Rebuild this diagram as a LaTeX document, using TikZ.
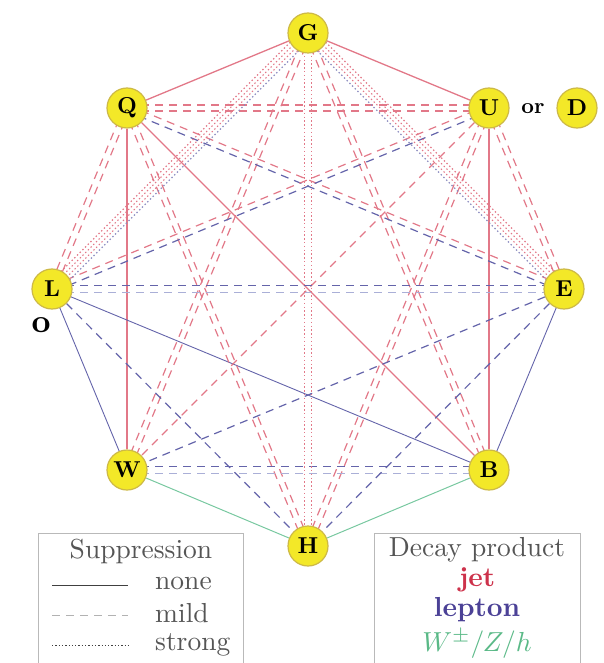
\documentclass[tikz,border=0pt]{standalone}
\usetikzlibrary{calc,backgrounds}
\definecolor{jetc}{RGB}{226,120,136}
\definecolor{lepc}{RGB}{100,100,170}
\definecolor{lepl}{RGB}{170,175,215}
\definecolor{bosc}{RGB}{120,200,160}
\definecolor{nodefill}{RGB}{243,232,40}
\definecolor{nodeedge}{RGB}{205,185,70}
\definecolor{boxc}{RGB}{185,185,185}
\definecolor{legtext}{RGB}{85,85,85}
\definecolor{jettext}{RGB}{205,50,75}
\definecolor{leptext}{RGB}{75,65,150}
\definecolor{bostext}{RGB}{90,185,135}
\newcommand\pedgeL[4]{\draw[#4] ($(#2.center)!#1!90:(#3.center)$) -- ($(#3.center)!#1!-90:(#2.center)$);}
\newcommand\pedgeR[4]{\draw[#4] ($(#2.center)!#1!-90:(#3.center)$) -- ($(#3.center)!#1!90:(#2.center)$);}
\newcommand\nlab[1]{\scalebox{2.3}{\textbf{#1}}}
\newcommand\legtxt[1]{\scalebox{2.75}{#1}}
\tikzset{
  particle/.style={circle, fill=nodefill, draw=nodeedge, line width=1.2pt, minimum size=40pt, inner sep=0pt, text=black},
  nonej/.style={draw=jetc, line width=1.3pt},
  nonel/.style={draw=lepc, line width=0.9pt},
  noneb/.style={draw=bosc, line width=1pt},
  mildj/.style={draw=jetc, line width=1.2pt, dash pattern=on 8pt off 6pt},
  mildl/.style={draw=lepc, line width=1.2pt, dash pattern=on 8pt off 6pt},
  mildll/.style={draw=lepl, line width=1.2pt, dash pattern=on 8pt off 6pt},
  strongj/.style={draw=jetc, line width=1.1pt, dash pattern=on 1.4pt off 2.4pt},
  strongl/.style={draw=lepc!75, line width=1.1pt, dash pattern=on 1.4pt off 2.4pt},
  legbox/.style={draw=boxc, line width=0.8pt, anchor=north west, inner sep=0pt},
  legt/.style={text=legtext, inner sep=0pt},
}
\begin{document}
\begin{tikzpicture}[x=1pt,y=-1pt]
\useasboundingbox (0,0) rectangle (604,663);
% particles
\node[particle] (G) at (308,33) {\nlab{G}};
\node[particle] (Q) at (127,108) {\nlab{Q}};
\node[particle] (U) at (489,108) {\nlab{U}};
\node[particle] (L) at (52,289) {\nlab{L}};
\node[particle] (E) at (564,289) {\nlab{E}};
\node[particle] (W) at (127,470) {\nlab{W}};
\node[particle] (B) at (489,470) {\nlab{B}};
\node[particle] (H) at (308,546) {\nlab{H}};
\node[particle] (D) at (577,108) {\nlab{D}};
\node[inner sep=0pt] (or) at (533,109) {\scalebox{2.2}{\textbf{or}}};
\node[inner sep=0pt] (o) at (41,325) {\scalebox{3.3}{\textbf{o}}};
\begin{pgfonlayer}{background}
% none (solid)
\draw[nonej] (G) -- (Q);
\draw[nonej] (G) -- (U);
\draw[nonej] (Q) -- (W);
\draw[nonej] (U) -- (B);
\draw[nonej] (Q) -- (B);
\draw[nonel] (L) -- (W);
\draw[nonel] (L) -- (B);
\draw[nonel] (E) -- (B);
\draw[noneb] (W) -- (H);
\draw[noneb] (B) -- (H);
% mild, jets (double)
\pedgeL{3pt}{Q}{U}{mildj} \pedgeR{3pt}{Q}{U}{mildj}
\pedgeL{3pt}{G}{W}{mildj} \pedgeR{3pt}{G}{W}{mildj}
\pedgeL{3pt}{G}{B}{mildj} \pedgeR{3pt}{G}{B}{mildj}
\pedgeL{3pt}{Q}{L}{mildj} \pedgeR{3pt}{Q}{L}{mildj}
\pedgeL{3pt}{U}{E}{mildj} \pedgeR{3pt}{U}{E}{mildj}
\pedgeL{3pt}{Q}{H}{mildj} \pedgeR{3pt}{Q}{H}{mildj}
\pedgeL{3pt}{U}{H}{mildj} \pedgeR{3pt}{U}{H}{mildj}
\pedgeL{3pt}{Q}{E}{mildj} \pedgeR{3pt}{Q}{E}{mildl}
\pedgeL{3pt}{U}{L}{mildl} \pedgeR{3pt}{U}{L}{mildj}
\draw[mildj] (U) -- (W);
% mild, leptons
\pedgeL{3.5pt}{L}{E}{mildl} \pedgeR{3.5pt}{L}{E}{mildll}
\pedgeL{3.5pt}{W}{B}{mildl} \pedgeR{3.5pt}{W}{B}{mildll}
\draw[mildl] (L) -- (H);
\draw[mildl] (E) -- (H);
\draw[mildl] (E) -- (W);
% strong (dotted)
\pedgeR{6pt}{G}{L}{strongj} \pedgeR{2pt}{G}{L}{strongj}
\pedgeL{2pt}{G}{L}{strongj} \pedgeL{6pt}{G}{L}{strongl}
\pedgeL{6pt}{G}{E}{strongj} \pedgeL{2pt}{G}{E}{strongj}
\pedgeR{2pt}{G}{E}{strongj} \pedgeR{6pt}{G}{E}{strongl}
\pedgeL{3.5pt}{G}{H}{strongj} \pedgeR{3.5pt}{G}{H}{strongj}
\end{pgfonlayer}
% legend: suppression
\node[legbox, minimum width=205pt, minimum height=135pt] (supbox) at (38,533) {};
\node[legt] (suptitle) at (141,551) {\legtxt{Suppression}};
\coordinate (a1) at (52,585); \coordinate (a2) at (128,585);
\coordinate (b1) at (52,615); \coordinate (b2) at (128,615);
\coordinate (c1) at (52,645); \coordinate (c2) at (128,645);
\draw[black!75, line width=0.9pt] (a1) -- (a2);
\draw[black!30, line width=0.9pt, dash pattern=on 8pt off 6pt] (b1) -- (b2);
\draw[black!75, line width=0.9pt, dash pattern=on 1.3pt off 2pt] (c1) -- (c2);
\node[legt, anchor=west] (tnone) at (155,583) {\legtxt{none}};
\node[legt, anchor=west] (tmild) at (155,613) {\legtxt{mild}};
\node[legt, anchor=west] (tstrong) at (155,645) {\legtxt{strong}};
% legend: decay product
\node[legbox, minimum width=206pt, minimum height=135pt] (decbox) at (374,533) {};
\node[legt] (dectitle) at (477,550) {\legtxt{Decay product}};
\node[legt, text=jettext] (tjet) at (477,580) {\legtxt{\textbf{jet}}};
\node[legt, text=leptext] (tlep) at (477,610) {\legtxt{\textbf{lepton}}};
\node[legt, text=bostext] (tbos) at (477,644) {\legtxt{$W^{\pm}/Z/h$}};
\end{tikzpicture}
\end{document}
